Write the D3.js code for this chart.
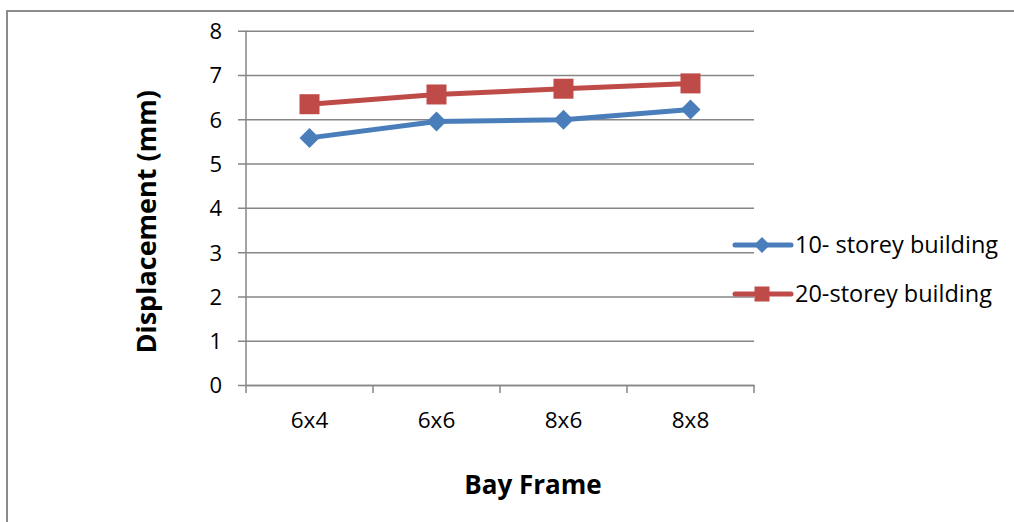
<!DOCTYPE html>
<html>
<head>
<meta charset="utf-8">
<script src="https://cdn.jsdelivr.net/npm/d3@7"></script>
<style>
  html, body { margin: 0; padding: 0; background: #fff; }
  svg { display: block; }
  text { font-family: "Open Sans", "Noto Sans", sans-serif; fill: #000; }
</style>
</head>
<body>
<svg id="chart" width="1014" height="522"></svg>
<script>
const categories = ["6x4", "6x6", "8x6", "8x8"];
const series10 = [5.58, 5.95, 5.99, 6.22];
const series20 = [6.34, 6.56, 6.69, 6.81];
const seriesNames = ["10- storey building", "20-storey building"];
const yTicks = [0, 1, 2, 3, 4, 5, 6, 7, 8];
const xTitle = "Bay Frame";
const yTitle = "Displacement (mm)";

(function () {
const svg = d3.select("#chart");
const W = 1014, H = 522;
const pL = 246, pR = 754, pT = 30.7, pB = 385;
const gridColor = "#868686";
const colors = ["#4A7EBB", "#BE4B48"];

// outer frame (top and left edges)
svg.append("path")
  .attr("d", `M7,${H} L7,11 L${W},11`)
  .attr("fill", "none").attr("stroke", "#8c8c8c").attr("stroke-width", 2);

const x = d3.scaleBand().domain(categories).range([pL, pR]).paddingInner(0).paddingOuter(0);
const y = d3.scaleLinear().domain([0, 8]).range([pB, pT]);

// gridlines + y axis
const yAxis = d3.axisLeft(y).tickValues(yTicks).tickSize(-(pR - pL)).tickSizeOuter(0).tickPadding(16).tickFormat(d3.format("d"));
const gy = svg.append("g").attr("transform", `translate(${pL},0)`).call(yAxis);
gy.select(".domain").remove();
gy.selectAll(".tick line").attr("stroke", gridColor).attr("stroke-width", 1.5).attr("x1", -8);
gy.selectAll(".tick text").attr("font-size", 22).attr("fill", "#000").style("font-family", "'Open Sans', sans-serif").attr("x", -24).attr("dy", "0.36em");
svg.append("line").attr("x1", pL).attr("x2", pL).attr("y1", pT).attr("y2", pB)
  .attr("stroke", gridColor).attr("stroke-width", 1.5);

// x axis
const xAxis = d3.axisBottom(x).tickSize(0).tickPadding(27);
const gx = svg.append("g").attr("transform", `translate(0,${pB})`).call(xAxis);
gx.select(".domain").attr("stroke", gridColor).attr("stroke-width", 1.5);
gx.selectAll(".tick text").attr("font-size", 22.5).attr("fill", "#000").style("font-family", "'Open Sans', sans-serif");
// category boundary ticks
const bounds = categories.map(c => x(c)).concat([x(categories[categories.length - 1]) + x.bandwidth()]);
gx.selectAll(".btick").data(bounds).enter().append("line")
  .attr("x1", d => d).attr("x2", d => d).attr("y1", 0).attr("y2", 8)
  .attr("stroke", gridColor).attr("stroke-width", 1.5);

// axis titles
svg.append("text").attr("x", 533).attr("y", 494)
  .attr("text-anchor", "middle").attr("font-size", 26).attr("font-weight", "bold").text(xTitle);
svg.append("text").attr("transform", `translate(156,${(pT + pB) / 2 + 14}) rotate(-90)`)
  .attr("text-anchor", "middle").attr("font-size", 27).attr("font-weight", "bold").text(yTitle);

const cx = c => x(c) + x.bandwidth() / 2;
const line = d3.line().x((d, i) => cx(categories[i])).y(d => y(d));
const allSeries = [series10, series20];

allSeries.forEach((s, k) => {
  svg.append("path").datum(s).attr("d", line).attr("fill", "none")
    .attr("stroke", colors[k]).attr("stroke-width", 5).attr("stroke-linejoin", "round");
});

const diamond = (g, cxp, cyp, r, col) => g.append("path")
  .attr("d", `M${cxp},${cyp - r} L${cxp + r},${cyp} L${cxp},${cyp + r} L${cxp - r},${cyp} Z`).attr("fill", col);
const square = (g, cxp, cyp, s, col) => g.append("rect")
  .attr("x", cxp - s / 2).attr("y", cyp - s / 2).attr("width", s).attr("height", s).attr("fill", col);

series10.forEach((v, i) => diamond(svg, cx(categories[i]), y(v), 10, colors[0]));
series20.forEach((v, i) => square(svg, cx(categories[i]), y(v), 20, colors[1]));

// legend
const legY = [245, 294];
legY.forEach((ly, k) => {
  svg.append("line").attr("x1", 735).attr("x2", 791).attr("y1", ly).attr("y2", ly)
    .attr("stroke", colors[k]).attr("stroke-width", 5).attr("stroke-linecap", "round");
  if (k === 0) diamond(svg, 762, ly, 8, colors[0]);
  else square(svg, 762, ly, 15, colors[1]);
  svg.append("text").attr("x", 795).attr("y", ly + 8).attr("font-size", 23.5).text(seriesNames[k]);
});
})();
</script>
</body>
</html>
